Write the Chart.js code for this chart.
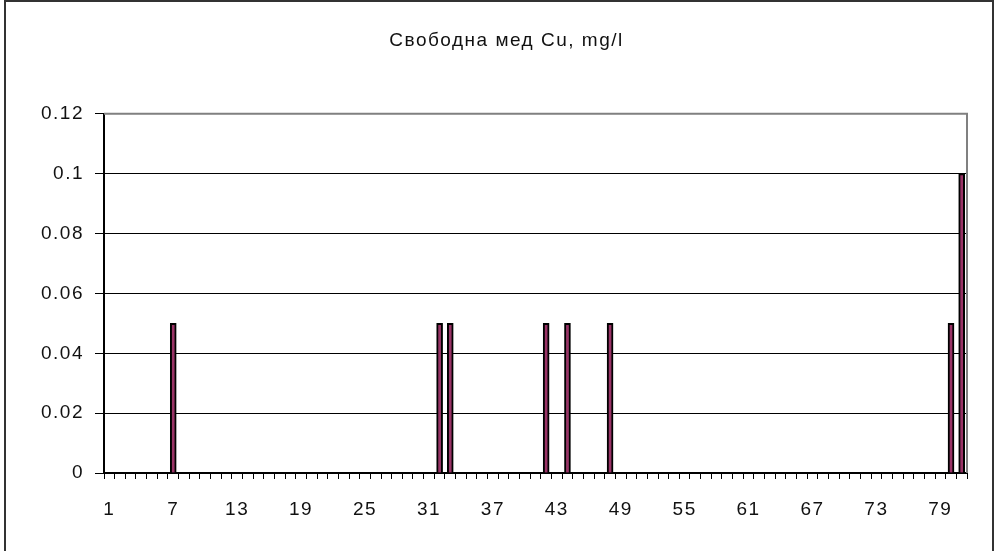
<!DOCTYPE html>
<html>
<head>
<meta charset="utf-8">
<script src="https://cdn.jsdelivr.net/npm/chart.js@4"></script>
<style>
html,body{margin:0;padding:0;background:#fff;}
#wrap{position:relative;width:995px;height:551px;}
</style>
</head>
<body>
<div id="wrap"><canvas id="c" width="995" height="551"></canvas></div>
<script>
const titleText = "Свободна мед Cu, mg/l";
const categories = [];
for (let i = 1; i <= 81; i++) categories.push(String(i));
const nonZeroCategories = [7, 32, 33, 42, 44, 48, 80, 81];
const nonZeroValues = [0.05, 0.05, 0.05, 0.05, 0.05, 0.05, 0.05, 0.1];
const values = categories.map(c => {
  const k = nonZeroCategories.indexOf(Number(c));
  return k >= 0 ? nonZeroValues[k] : 0;
});
const yTicks = [0, 0.02, 0.04, 0.06, 0.08, 0.1, 0.12];

const LS = '1.5px';
const spacing = {
  id: 'spacing',
  beforeUpdate(chart) { chart.ctx.letterSpacing = LS; },
  beforeLayout(chart) { chart.ctx.letterSpacing = LS; },
  afterLayout(chart) {
    const t = chart.titleBlock;
    if (t) { t.left = 46; t.width = t.right - t.left; }
  },
  beforeDraw(chart) { chart.ctx.letterSpacing = LS; }
};

const frame = {
  id: 'frame',
  afterDraw(chart) {
    const ctx = chart.ctx, a = chart.chartArea;
    ctx.save();
    ctx.strokeStyle = '#808080';
    ctx.lineWidth = 2;
    ctx.beginPath();
    ctx.moveTo(a.left, a.top);
    ctx.lineTo(a.right, a.top);
    ctx.lineTo(a.right, a.bottom);
    ctx.stroke();
    ctx.strokeStyle = '#333';
    ctx.lineWidth = 2;
    ctx.beginPath();
    ctx.moveTo(5, 551);
    ctx.lineTo(5, 1);
    ctx.lineTo(993, 1);
    ctx.lineTo(993, 551);
    ctx.stroke();
    ctx.restore();
  }
};

new Chart(document.getElementById('c'), {
  type: 'bar',
  data: {
    labels: categories,
    datasets: [{
      data: values,
      backgroundColor: '#993366',
      borderColor: '#000',
      borderWidth: 2,
      borderSkipped: 'bottom',
      barThickness: 6
    }]
  },
  options: {
    responsive: false,
    animation: false,
    devicePixelRatio: 1,
    layout: { padding: { left: 0, right: 28, top: 0, bottom: 0 } },
    plugins: {
      legend: { display: false },
      tooltip: { enabled: false },
      title: {
        display: true,
        text: titleText,
        color: '#111',
        font: { family: 'Liberation Sans', size: 19, weight: 'normal', lineHeight: 1.2 },
        padding: { top: 29, bottom: 62 }
      }
    },
    scales: {
      x: {
        offset: true,
        grid: {
          offset: true,
          drawOnChartArea: false,
          drawTicks: true,
          tickLength: 6,
          color: '#000'
        },
        border: { display: true, color: '#000', width: 2 },
        ticks: {
          autoSkip: false,
          maxRotation: 0,
          color: '#111',
          padding: 19,
          font: { family: 'Liberation Sans', size: 19 },
          callback: function (v, i) { return i % 6 === 0 ? categories[i] : ''; }
        },
        afterFit(s) { s.height = 78; }
      },
      y: {
        min: 0,
        max: 0.12,
        afterBuildTicks(s) { s.ticks = yTicks.map(v => ({ value: v })); },
        grid: {
          color: '#000',
          lineWidth: 1,
          tickLength: 9
        },
        border: { display: true, color: '#000', width: 2 },
        ticks: {
          color: '#111',
          padding: 11,
          font: { family: 'Liberation Sans', size: 19 },
          callback: v => String(Math.round(v * 100) / 100)
        },
        afterFit(s) { s.width = 104; }
      }
    }
  },
  plugins: [spacing, frame]
});
</script>
</body>
</html>
